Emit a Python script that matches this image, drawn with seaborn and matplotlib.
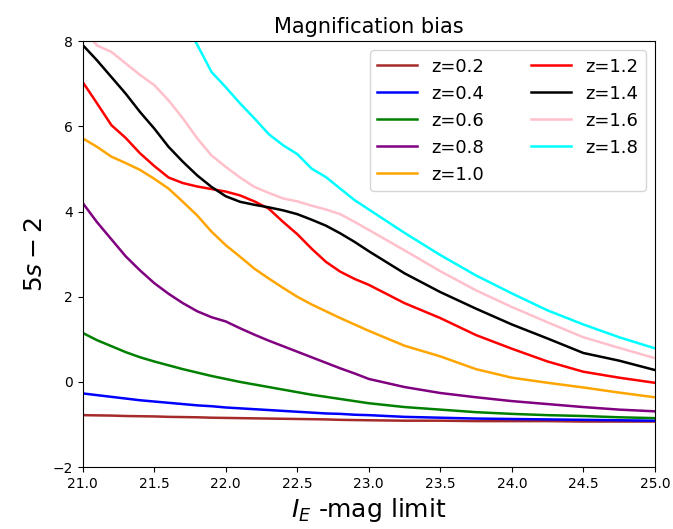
import numpy as np
import seaborn as sns
import matplotlib.pyplot as plt

# magnitude limit grid
mag = [21.0, 21.1, 21.2, 21.3, 21.4, 21.5, 21.6, 21.7, 21.8, 21.9,
       22.0, 22.1, 22.2, 22.3, 22.4, 22.5, 22.6, 22.7, 22.8, 22.9,
       23.0, 23.25, 23.5, 23.75, 24.0, 24.25, 24.5, 24.75, 25.0]

z02 = [-0.78, -0.785, -0.79, -0.80, -0.805, -0.81, -0.82, -0.825, -0.83, -0.84,
       -0.845, -0.85, -0.855, -0.86, -0.865, -0.87, -0.875, -0.88, -0.89, -0.895,
       -0.90, -0.91, -0.91, -0.92, -0.92, -0.92, -0.93, -0.93, -0.93]
z04 = [-0.27, -0.31, -0.35, -0.39, -0.43, -0.46, -0.49, -0.52, -0.55, -0.57,
       -0.60, -0.62, -0.64, -0.66, -0.68, -0.70, -0.72, -0.74, -0.75, -0.77,
       -0.78, -0.82, -0.84, -0.86, -0.87, -0.88, -0.89, -0.90, -0.91]
z06 = [1.15, 0.98, 0.84, 0.70, 0.58, 0.48, 0.39, 0.30, 0.22, 0.14,
       0.07, 0.0, -0.06, -0.12, -0.18, -0.24, -0.30, -0.35, -0.40, -0.45,
       -0.50, -0.59, -0.65, -0.71, -0.75, -0.78, -0.80, -0.83, -0.85]
z08 = [4.2, 3.75, 3.35, 2.95, 2.62, 2.32, 2.07, 1.85, 1.66, 1.52,
       1.42, 1.26, 1.11, 0.97, 0.84, 0.71, 0.58, 0.45, 0.32, 0.2,
       0.07, -0.12, -0.26, -0.36, -0.45, -0.52, -0.59, -0.65, -0.69]
z10 = [5.72, 5.52, 5.29, 5.14, 4.98, 4.77, 4.54, 4.23, 3.91, 3.53,
       3.21, 2.94, 2.66, 2.43, 2.21, 2.0, 1.82, 1.66, 1.5, 1.35,
       1.2, 0.85, 0.6, 0.3, 0.1, -0.02, -0.13, -0.25, -0.36]
z12 = [7.04, 6.54, 6.03, 5.73, 5.37, 5.07, 4.8, 4.67, 4.59, 4.53,
       4.47, 4.38, 4.24, 4.07, 3.76, 3.47, 3.13, 2.82, 2.59, 2.42,
       2.28, 1.85, 1.5, 1.1, 0.78, 0.48, 0.24, 0.1, -0.02]
z14 = [7.91, 7.55, 7.16, 6.77, 6.34, 5.95, 5.52, 5.17, 4.85, 4.58,
       4.36, 4.23, 4.16, 4.1, 4.03, 3.94, 3.81, 3.67, 3.49, 3.29,
       3.07, 2.55, 2.11, 1.72, 1.35, 1.02, 0.68, 0.5, 0.28]
z16 = [8.3, 7.9, 7.75, 7.48, 7.21, 6.97, 6.61, 6.19, 5.72, 5.32,
       5.05, 4.8, 4.58, 4.44, 4.31, 4.24, 4.14, 4.05, 3.94, 3.76,
       3.57, 3.09, 2.6, 2.15, 1.76, 1.4, 1.05, 0.8, 0.56]
z18 = [np.nan, np.nan, np.nan, np.nan, np.nan, np.nan, np.nan, 8.5, 7.92, 7.28,
       6.92, 6.54, 6.19, 5.82, 5.56, 5.35, 5.01, 4.81, 4.54, 4.27,
       4.05, 3.5, 2.98, 2.5, 2.08, 1.68, 1.35, 1.05, 0.79]

labels = ['z=0.2', 'z=0.4', 'z=0.6', 'z=0.8', 'z=1.0', 'z=1.2', 'z=1.4', 'z=1.6', 'z=1.8']
colors = ['brown', 'blue', 'green', 'purple', 'orange', 'red', 'black', 'pink', 'cyan']
series = [z02, z04, z06, z08, z10, z12, z14, z16, z18]

fig = plt.figure(figsize=(6.73, 5.29), dpi=100)
ax = fig.add_axes([0.123, 0.117, 0.85, 0.805])

for vals, lab, col in zip(series, labels, colors):
    sns.lineplot(x=mag, y=vals, color=col, label=lab, linewidth=1.8, ax=ax)

ax.set_xlim(21, 25)
ax.set_ylim(-2, 8)
ax.set_xticks(np.arange(21, 25.01, 0.5))
ax.set_yticks([-2, 0, 2, 4, 6, 8])
ax.set_title('Magnification bias', fontsize=15)
ax.set_xlabel('$I_E$ -mag limit', fontsize=18)
ax.set_ylabel('$5s-2$', fontsize=18)
ax.legend(ncol=2, fontsize=13, loc='upper right', handlelength=2.2, columnspacing=2.6)

plt.savefig("out.png")
